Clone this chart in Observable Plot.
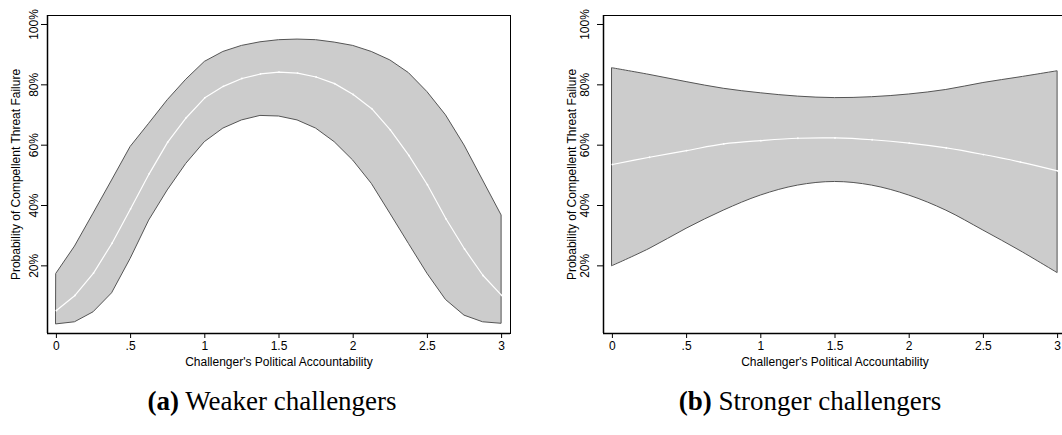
<!DOCTYPE html>
<html>
<head>
<meta charset="utf-8">
<script src="https://cdn.jsdelivr.net/npm/d3@7"></script>
<script src="https://cdn.jsdelivr.net/npm/@observablehq/plot@0.6"></script>
<style>
  html, body { margin: 0; padding: 0; background: #fff; width: 1062px; height: 435px; overflow: hidden; position: relative; }
  .panel { position: absolute; top: 0; width: 530px; height: 375px; }
  .panel svg { max-width: none !important; }
  .cap { position: absolute; font-family: "Liberation Serif", "DejaVu Serif", serif; font-size: 27px; color: #000; white-space: nowrap; transform: translateX(-50%); }
  .cap b { font-weight: bold; }
</style>
</head>
<body>
<div id="left" class="panel" style="left:0px"></div>
<div id="right" class="panel" style="left:556px"></div>
<div class="cap" style="left:272px; top:386px"><b>(a)</b> Weaker challengers</div>
<div class="cap" style="left:810px; top:386px"><b>(b)</b> Stronger challengers</div>
<script>
// ---- data ----
const xWeak = [0,0.125,0.25,0.375,0.5,0.625,0.75,0.875,1,1.125,1.25,1.375,1.5,1.625,1.75,1.875,2,2.125,2.25,2.375,2.5,2.625,2.75,2.875,3];
const meanWeak = [5.2,10.2,17.6,27.5,38.9,50.5,61.0,69.1,75.7,79.5,82.1,83.6,84.2,83.9,82.6,80.4,76.8,72.1,65.1,56.6,46.9,35.6,25.6,16.8,10.2];
const upperWeak = [17.4,26.4,37.3,48.3,59.4,67.1,74.9,81.7,87.6,90.9,92.9,94.1,94.8,95.0,94.8,94.0,92.9,90.9,88.1,83.9,77.6,69.9,59.9,48.3,36.7];
const lowerWeak = [0.6,1.3,4.6,10.9,22.3,35.0,45.0,53.8,61.0,65.5,68.2,69.7,69.5,68.2,65.5,61.0,54.9,47.2,37.3,27.3,17.4,8.7,3.5,1.3,0.8];

const xStrong = [0,0.25,0.5,0.75,1,1.25,1.5,1.75,2,2.25,2.5,2.75,3];
const meanStrong = [53.6,56.0,58.2,60.4,61.5,62.3,62.4,61.8,60.7,59.1,56.9,54.4,51.5];
const upperStrong = [85.5,83.3,80.9,78.7,77.2,76.1,75.6,75.9,76.8,78.3,80.6,82.5,84.5];
const lowerStrong = [19.9,25.6,32.3,38.3,43.3,46.6,47.8,46.6,43.3,38.3,31.7,24.9,17.6];

const xTicks = [0,0.5,1,1.5,2,2.5,3];
const xTickLabels = ["0",".5","1","1.5","2","2.5","3"];
const yTicks = [0.2,0.4,0.6,0.8,1.0];
const yTickLabels = ["20%","40%","60%","80%","100%"];
const xTitle = "Challenger's Political Accountability";
const yTitle = "Probability of Compellent Threat Failure";

function rows(xs, m, u, l) {
  return xs.map((x, i) => ({x, mean: m[i] / 100, hi: u[i] / 100, lo: l[i] / 100}));
}

function panel(data, curve, yLabelPad, yTitleOffset) {
  return Plot.plot({
    width: 530,
    height: 375,
    marginLeft: 47,
    marginRight: 20,
    marginTop: 15,
    marginBottom: 42,
    style: {fontFamily: "'Liberation Sans', Arial, sans-serif", fontSize: "12px", color: "#000", background: "transparent"},
    x: {domain: [-0.06, 3.06]},
    y: {domain: [-0.0242, 1.0298]},
    marks: [
      Plot.areaY(data, {x: "x", y1: "lo", y2: "hi", fill: "#cccccc", stroke: "#555555", strokeWidth: 1, curve}),
      Plot.line(data, {x: "x", y: "mean", stroke: "#ffffff", strokeWidth: 1.2, curve}),
      Plot.dot(data, {x: "x", y: "mean", r: 0.9, fill: "#ffffff"}),
      Plot.frame({stroke: "#000", strokeWidth: 1}),
      Plot.ruleX([-0.06], {stroke: "#000", strokeWidth: 1.5}),
      Plot.ruleY([-0.0242], {stroke: "#000", strokeWidth: 1.5}),
      Plot.axisX({
        ticks: xTicks,
        tickFormat: (d) => xTickLabels[xTicks.indexOf(d)],
        tickSize: 5,
        tickPadding: 3,
        fontSize: 12,
        label: xTitle,
        labelAnchor: "center",
        labelArrow: "none",
        labelOffset: 32
      }),
      Plot.axisY({
        ticks: yTicks,
        tickFormat: (d) => yTickLabels[yTicks.indexOf(d)],
        tickSize: 6,
        tickPadding: yLabelPad,
        tickRotate: -90,
        fontSize: 12,
        label: yTitle,
        labelAnchor: "center",
        labelArrow: "none",
        labelOffset: yTitleOffset
      })
    ]
  });
}

document.getElementById("left").append(panel(rows(xWeak, meanWeak, upperWeak, lowerWeak), "linear", 4, 36));
document.getElementById("right").append(panel(rows(xStrong, meanStrong, upperStrong, lowerStrong), "catmull-rom", 9, 36));
</script>
</body>
</html>
